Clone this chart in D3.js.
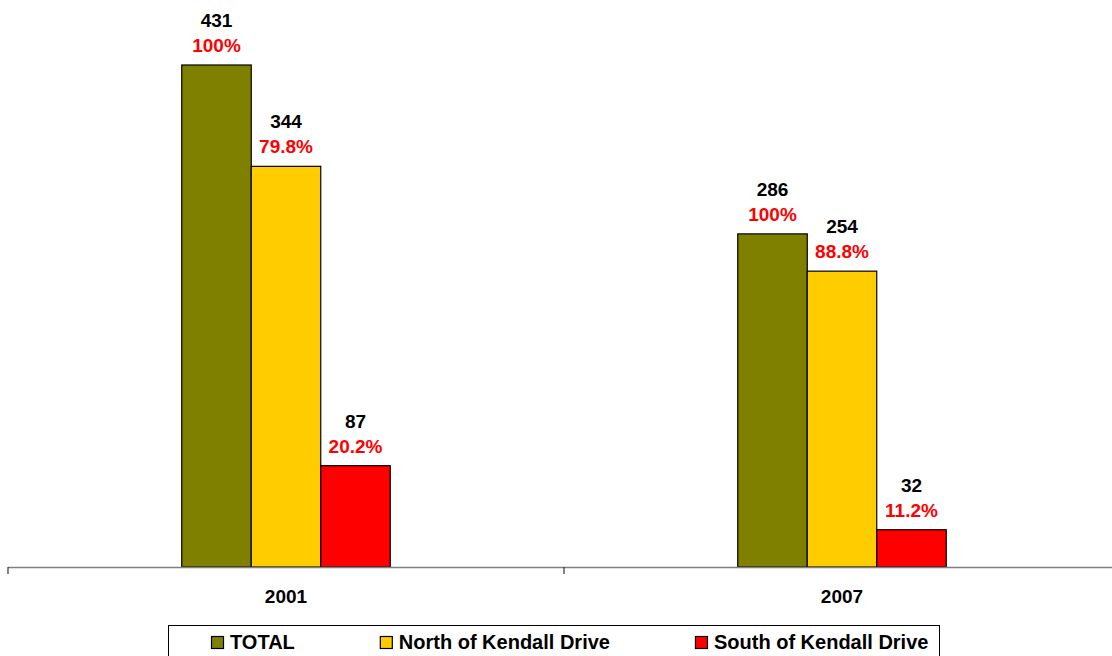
<!DOCTYPE html>
<html>
<head>
<meta charset="utf-8">
<script src="https://cdn.jsdelivr.net/npm/d3@7"></script>
<style>
  html, body { margin: 0; padding: 0; background: #fff; }
  svg { display: block; font-family: "Liberation Sans", Arial, sans-serif; }
</style>
</head>
<body>
<svg id="chart" width="1112" height="656"></svg>
<script>
const categories = ["2001", "2007"];
const seriesNames = ["TOTAL", "North of Kendall Drive", "South of Kendall Drive"];
const seriesColors = ["#808000", "#FFCC00", "#FF0000"];
const totalValues = [431, 286];
const northValues = [344, 254];
const southValues = [87, 32];
const totalPct = ["100%", "100%"];
const northPct = ["79.8%", "88.8%"];
const southPct = ["20.2%", "11.2%"];

const seriesValues = [totalValues, northValues, southValues];
const seriesPct = [totalPct, northPct, southPct];

const svg = d3.select("#chart");
const baseY = 567;
const x = d3.scaleBand().domain(categories).range([8, 1120]).paddingInner(0).paddingOuter(0);
const inner = d3.scaleBand().domain(d3.range(seriesNames.length))
  .range([x.bandwidth() * 0.3125, x.bandwidth() * 0.6875]);
const y = d3.scaleLinear().domain([0, 500]).range([baseY, baseY - 500 * (502 / 431)]);

const data = [];
categories.forEach((c, ci) => {
  seriesNames.forEach((s, si) => {
    data.push({ cat: c, si: si, value: seriesValues[si][ci], pct: seriesPct[si][ci] });
  });
});

// bars
svg.append("g").selectAll("rect").data(data).join("rect")
  .attr("x", d => x(d.cat) + inner(d.si))
  .attr("y", d => y(d.value))
  .attr("width", inner.bandwidth())
  .attr("height", d => y(0) - y(d.value))
  .attr("fill", d => seriesColors[d.si])
  .attr("stroke", "#000")
  .attr("stroke-width", 1.2);

// labels
const lab = svg.append("g").attr("font-weight", "bold").attr("font-size", 19).attr("text-anchor", "middle");
lab.selectAll("text.v").data(data).join("text").attr("class", "v")
  .attr("x", d => x(d.cat) + inner(d.si) + inner.bandwidth() / 2)
  .attr("y", d => y(d.value) - 38)
  .attr("fill", "#000")
  .text(d => d.value);
lab.selectAll("text.p").data(data).join("text").attr("class", "p")
  .attr("x", d => x(d.cat) + inner(d.si) + inner.bandwidth() / 2)
  .attr("y", d => y(d.value) - 13)
  .attr("fill", "#FF0000")
  .text(d => d.pct);

// axis
const axis = d3.axisBottom(x).tickSize(0).tickPadding(0);
const ag = svg.append("g").attr("transform", `translate(0,${baseY})`).call(axis);
ag.select(".domain").remove();
ag.selectAll(".tick line").remove();
ag.selectAll(".tick text")
  .attr("font-family", "Liberation Sans, Arial, sans-serif")
  .attr("font-size", 19).attr("font-weight", "bold").attr("fill", "#000")
  .attr("dy", null).attr("y", 35.5);
svg.append("line").attr("x1", 8).attr("x2", 1112).attr("y1", baseY + 0.5).attr("y2", baseY + 0.5)
  .attr("stroke", "#808080").attr("stroke-width", 1.5);
const boundaries = categories.map(c => x(c));
svg.append("g").selectAll("line").data(boundaries).join("line")
  .attr("x1", d => d).attr("x2", d => d)
  .attr("y1", baseY).attr("y2", baseY + 7)
  .attr("stroke", "#333").attr("stroke-width", 1.2);

// legend
svg.append("rect").attr("x", 168.5).attr("y", 625.5).attr("width", 771).attr("height", 45)
  .attr("fill", "#fff").attr("stroke", "#000").attr("stroke-width", 1);
const lg = svg.append("g");
let lx = 211;
seriesNames.forEach((s, i) => {
  lg.append("rect").attr("x", lx + 0.5).attr("y", 636.5).attr("width", 12).attr("height", 12)
    .attr("fill", seriesColors[i]).attr("stroke", "#000").attr("stroke-width", 1.2);
  const t = lg.append("text").attr("x", lx + 19).attr("y", 649)
    .attr("font-size", 20).attr("font-weight", "bold").attr("fill", "#000").text(s);
  lx = lx + 19 + t.node().getComputedTextLength() + 85;
});
</script>
</body>
</html>
